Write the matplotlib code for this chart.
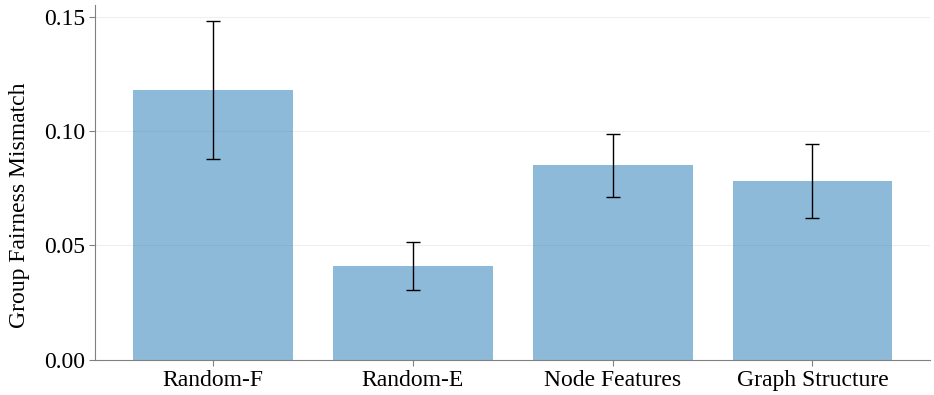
import numpy as np
import matplotlib
matplotlib.use('Agg')
import matplotlib.pyplot as plt

plt.rcParams['font.family'] = ['Liberation Serif', 'DejaVu Serif']

# Data
methods = ['Random-F', 'Random-E', 'Node Features', 'Graph Structure']
mismatch = [0.118, 0.0412, 0.085, 0.078]
mismatch_err = [0.0302, 0.0105, 0.0138, 0.0162]

fig, ax = plt.subplots(figsize=(9.34, 3.95), dpi=100)

x = np.arange(len(methods))
ax.bar(x, mismatch, width=0.8, color='tab:blue', alpha=0.5,
       yerr=mismatch_err, capsize=5,
       error_kw=dict(ecolor='black', elinewidth=1, capthick=1), zorder=2)

ax.set_xticks(x)
ax.set_xticklabels(methods, fontsize=17)
ax.set_ylabel('Group Fairness Mismatch', fontsize=17)
ax.yaxis.set_label_coords(-0.078, 0.437)
ax.set_ylim(0, 0.155)
ax.set_yticks([0.0, 0.05, 0.10, 0.15])
ax.set_yticklabels(['0.00', '0.05', '0.10', '0.15'], fontsize=17)
ax.grid(True, axis='y', alpha=0.3, color='#cccccc', zorder=0)
ax.set_axisbelow(True)

for side in ['top', 'right']:
    ax.spines[side].set_visible(False)
for side in ['left', 'bottom']:
    ax.spines[side].set_color('gray')
ax.tick_params(colors='black', length=4)
ax.tick_params(axis='both', color='gray')

plt.subplots_adjust(left=0.102, right=0.996, top=0.987, bottom=0.089)
plt.savefig('out.png', dpi=100)
plt.close()
